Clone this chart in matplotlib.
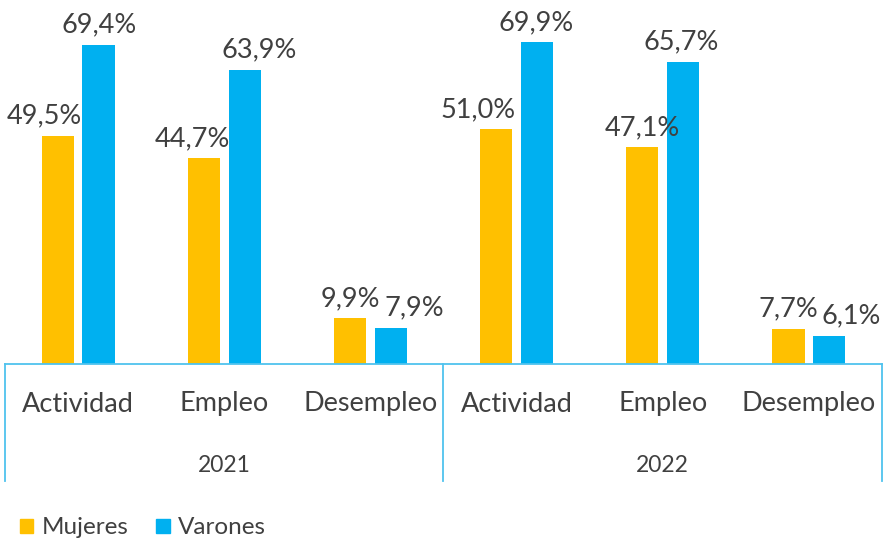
import numpy as np
import matplotlib.pyplot as plt
from matplotlib.patches import Patch

categories = ['Actividad', 'Empleo', 'Desempleo', 'Actividad', 'Empleo', 'Desempleo']
years = ['2021', '2022']
mujeres = [49.5, 44.7, 9.9, 51.0, 47.1, 7.7]
varones = [69.4, 63.9, 7.9, 69.9, 65.7, 6.1]

# horizontal nudges of the value labels (pixels), like the original layout
m_dx = [-13, -11, 0, -18, 0, 0]
v_dx = [1, 14, 23, -1, -2, 22]

orange = '#FFC000'
blue = '#00B0F0'
line_col = '#4FC3EE'
txt = '#404040'
plt.rcParams['font.family'] = ['Lato', 'DejaVu Sans']

fig = plt.figure(figsize=(8.85, 5.45), dpi=100)
ax = fig.add_axes([5/885, 181/545, 877/885, 364/545])

x = np.arange(len(categories))
w = 0.22
ax.bar(x - 0.14, mujeres, w, color=orange)
ax.bar(x + 0.14, varones, w, color=blue)

ax.set_xlim(-0.5, 5.5)
ax.set_ylim(0, 364/4.6)

for i in range(len(categories)):
    ax.annotate(f'{mujeres[i]:.1f}%'.replace('.', ','), (x[i] - 0.14, mujeres[i]),
                xytext=(m_dx[i]*0.72, 9), textcoords='offset points',
                ha='center', va='baseline', fontsize=19.5, color=txt)
    ax.annotate(f'{varones[i]:.1f}%'.replace('.', ','), (x[i] + 0.14, varones[i]),
                xytext=(v_dx[i]*0.72, 9), textcoords='offset points',
                ha='center', va='baseline', fontsize=19.5, color=txt)

for s in ['top', 'right', 'left']:
    ax.spines[s].set_visible(False)
ax.spines['bottom'].set_color(line_col)
ax.spines['bottom'].set_linewidth(1.3)
ax.set_yticks([])
ax.set_xticks([])

trans = ax.get_xaxis_transform()
for xv in [-0.5, 2.5, 5.5]:
    ax.plot([xv, xv], [0, -(481-364)/364], color=line_col, lw=1.3,
            transform=trans, clip_on=False)

for i, c in enumerate(categories):
    ax.text(x[i], -(404-364)/364, c, transform=trans, ha='center', va='center',
            fontsize=19.5, color=txt)
for j, yr in enumerate(years):
    ax.text(1 + 3*j, -(465-364)/364, yr, transform=trans, ha='center', va='center',
            fontsize=16.5, color=txt)

handles = [Patch(color=orange, label='Mujeres'), Patch(color=blue, label='Varones')]
fig.legend(handles=handles, loc='center left', bbox_to_anchor=(10/885, 1 - 528/545),
           borderaxespad=0, ncol=2, frameon=False, fontsize=17.5,
           handlelength=0.55, handleheight=0.55, handletextpad=0.35,
           columnspacing=1.15, labelcolor=txt)

fig.savefig('out.png', dpi=100)
